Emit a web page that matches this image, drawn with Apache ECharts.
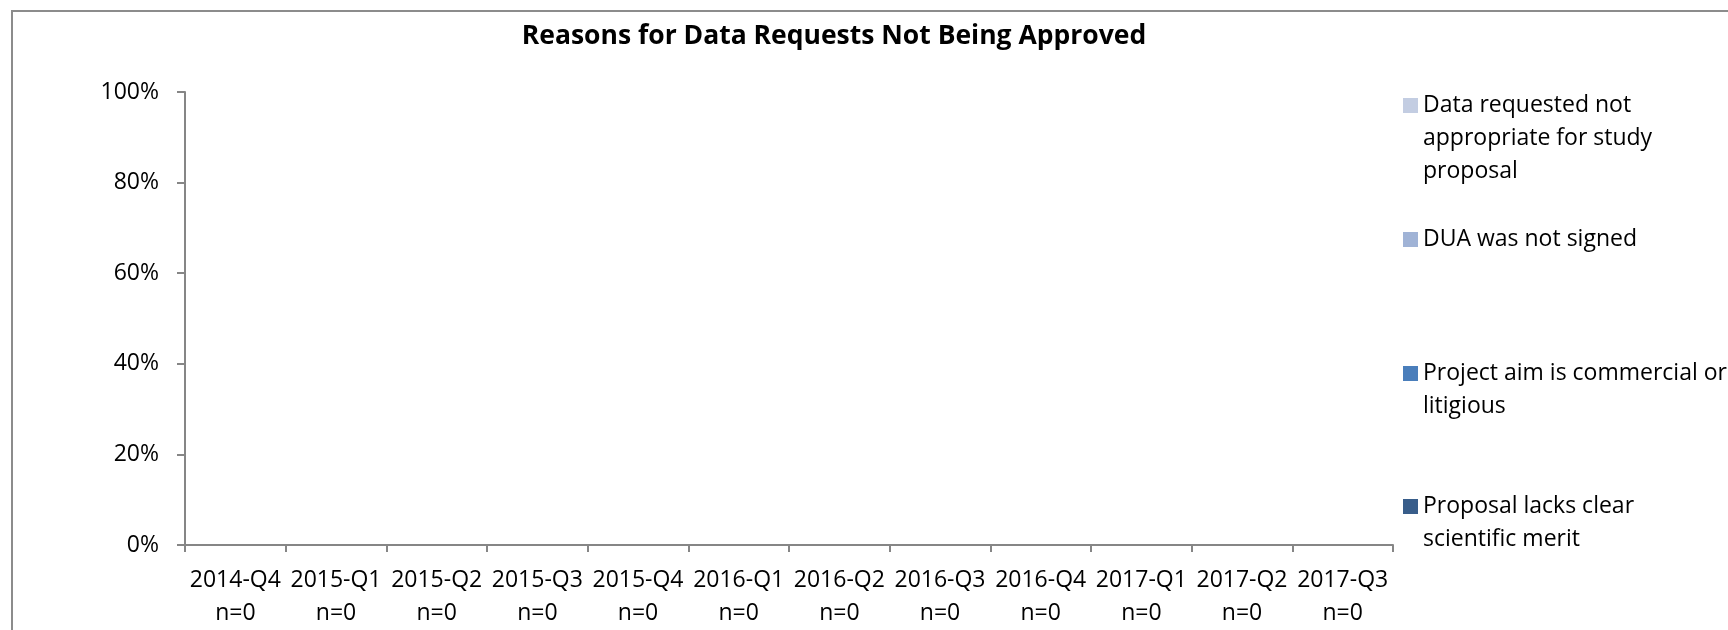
<!DOCTYPE html>
<html>
<head>
	<meta charset="utf-8" />
	<title>Reasons for Data Requests Not Being Approved</title>
	<script src="https://cdn.jsdelivr.net/npm/echarts@6/dist/echarts.min.js"></script>
	<style>
		html, body { margin: 0; padding: 0; background: #fff; }
	</style>
</head>
<body>
	<!-- chart container -->
	<div id="main" style="width: 1728px;height: 630px;"></div>
	<script type="text/javascript">

		// quarters and number of requests in each
		var quarters = ['2014-Q4','2015-Q1','2015-Q2','2015-Q3','2015-Q4','2016-Q1',
			'2016-Q2','2016-Q3','2016-Q4','2017-Q1','2017-Q2','2017-Q3'];
		var requestCounts = [0,0,0,0,0,0,0,0,0,0,0,0];

		// share of each reason (%), bottom of the stack first
		var proposalLacksMerit = [0,0,0,0,0,0,0,0,0,0,0,0];
		var projectCommercial  = [0,0,0,0,0,0,0,0,0,0,0,0];
		var duaNotSigned       = [0,0,0,0,0,0,0,0,0,0,0,0];
		var dataNotAppropriate = [0,0,0,0,0,0,0,0,0,0,0,0];

		var yTicks = [0,20,40,60,80,100];

		var seriesNames = [
			'Proposal lacks clear scientific merit',
			'Project aim is commercial or litigious',
			'DUA was not signed',
			'Data requested not appropriate for study proposal'
		];
		// how the legend wraps each name
		var legendText = {
			'Proposal lacks clear scientific merit': 'Proposal lacks clear\nscientific merit',
			'Project aim is commercial or litigious': 'Project aim is commercial or\nlitigious',
			'DUA was not signed': 'DUA was not signed',
			'Data requested not appropriate for study proposal': 'Data requested not\nappropriate for study\nproposal'
		};
		var colors = ['#385d8a','#4a7ebb','#a0b3d6','#c3cde2'];

		var font = '"Open Sans", "DejaVu Sans", sans-serif';
		var lh = 33;

		var myChart = echarts.init(document.getElementById('main'));

		var labels = quarters.map(function(q, i) {
			return q + '\nn=' + requestCounts[i];
		});

		// one legend per reason; blank lines in front keep the square on the first text line
		var legendTops = [499, 366, 232, 98];	// top of each square
		var legends = seriesNames.map(function(name, i) {
			var lines = legendText[name].split('\n').length;
			var pad = new Array(lines).join('\n');
			return {
				orient: 'vertical',
				left: 1403,
				top: legendTops[i] + 7.5 - (2*lines-1)*lh/2,
				padding: 0,
				itemWidth: 15,
				itemHeight: 15,
				icon: 'rect',
				data: [name],
				selectedMode: false,
				formatter: function(n) { return pad + legendText[n]; },
				textStyle: {
					fontFamily: font,
					fontSize: 23,
					color: '#000',
					lineHeight: lh
				}
			};
		});

		var data = [proposalLacksMerit, projectCommercial, duaNotSigned, dataNotAppropriate];

		var option = {
			backgroundColor: '#fff',
			animation: false,
			title: {
				text: 'Reasons for Data Requests Not Being Approved',
				left: 834,
				top: 23,
				padding: 0,
				textAlign: 'center',
				textStyle: {
					fontFamily: font,
					fontSize: 26.5,
					fontWeight: 'bold',
					color: '#000'
				}
			},
			legend: legends,
			graphic: [{
				type: 'rect',
				shape: { x: 12, y: 11, width: 1800, height: 800 },
				style: { fill: 'none', stroke: '#8c8c8c', lineWidth: 2 },
				silent: true
			}],
			grid: {
				left: 185,
				top: 92,
				right: 335,
				bottom: 82
			},
			xAxis: {
				type: 'category',
				data: labels,
				axisLine: { lineStyle: { color: '#868686', width: 2 } },
				axisTick: { show: true, length: 7, interval: 0, lineStyle: { color: '#868686', width: 2 } },
				axisLabel: {
					interval: 0,
					margin: 19,
					fontFamily: font,
					fontSize: 23,
					lineHeight: 33,
					color: '#000'
				}
			},
			yAxis: {
				type: 'value',
				min: yTicks[0],
				max: yTicks[yTicks.length-1],
				interval: yTicks[1] - yTicks[0],
				splitLine: { show: false },
				axisLine: { show: true, lineStyle: { color: '#868686', width: 2 } },
				axisTick: { show: true, length: 8, lineStyle: { color: '#868686', width: 2 } },
				axisLabel: {
					formatter: '{value}%',
					margin: 26,
					fontFamily: font,
					fontSize: 23,
					color: '#000'
				}
			},
			series: seriesNames.map(function(name, i) {
				return {
					name: name,
					type: 'bar',
					stack: 'reasons',
					barWidth: '50%',
					itemStyle: { color: colors[i] },
					data: data[i]
				};
			})
		};

		myChart.setOption(option);

	</script>
</body>
</html>
